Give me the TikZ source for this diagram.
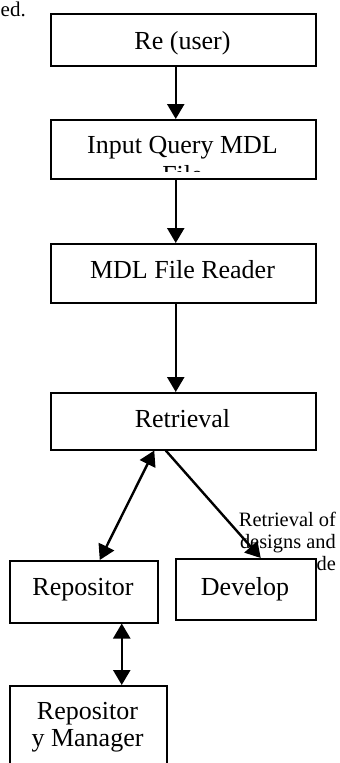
\documentclass[tikz,border=0pt]{standalone}
\usepackage{fontspec}
\setmainfont{Liberation Serif}
\usetikzlibrary{arrows.meta}
\begin{document}
\begin{tikzpicture}[x=1pt,y=-1pt,
  box/.style={draw,line width=1.5pt,fill=white,inner sep=0pt,anchor=north west},
  lbl/.style={font=\fontsize{26}{30}\selectfont,inner sep=0pt,anchor=base,align=center},
  note/.style={font=\fontsize{20.4}{22}\selectfont,inner sep=0pt,anchor=base east,align=right},
  conn/.style={line width=2.4pt,-{Triangle[width=17pt,length=15pt]}},
  both/.style={line width=2.4pt,{Triangle[width=17pt,length=15pt]}-{Triangle[width=17pt,length=15pt]}}]
\path[use as bounding box] (0,0) rectangle (340,763);

% trailing word of the preceding text line
\node[font=\fontsize{21}{24}\selectfont,inner sep=0pt,anchor=base west] (tail) at (0.5,16) {ed.};

% edge label, partly hidden by the Develop box (anchored on its last line)
\node[note] (note) at (336,570) {Retrieval of\\designs and\\code};

% boxes
\node[box,minimum width=265pt,minimum height=52pt] (user) at (50,13) {};
\node[box,minimum width=265pt,minimum height=59pt] (query) at (50,119) {};
\node[box,minimum width=265pt,minimum height=59pt] (reader) at (50,243) {};
\node[box,minimum width=265pt,minimum height=57pt] (retr) at (50,392) {};
\node[box,minimum width=148pt,minimum height=62pt] (repo) at (9,560) {};
\node[box,minimum width=140pt,minimum height=61pt] (dev) at (175,558) {};
\node[box,minimum width=157pt,minimum height=90pt] (mgr) at (9,685) {};

% box texts
\node[lbl] (tuser) at (182.5,49) {Re (user)};
\begin{scope}
  \clip (50,119) rectangle (315,171);
  \node[lbl] (tquery) at (182.5,183) {Input Query MDL\\File};
\end{scope}
\node[lbl] (treader) at (182.5,278) {MDL File Reader};
\node[lbl] (tretr) at (182.5,427) {Retrieval};
\node[lbl] (trepo) at (83,595) {Repositor};
\node[lbl] (tdev) at (245,595) {Develop};
\node[lbl,font=\fontsize{26}{26.5}\selectfont] (tmgr) at (87.5,746) {Repositor\\y Manager};

% connectors
\draw[conn] ([xshift=-7.5pt]user.south) -- ([xshift=-7.5pt]query.north);
\draw[conn] ([xshift=-7.5pt]query.south) -- ([xshift=-7.5pt]reader.north);
\draw[conn] ([xshift=-7.5pt]reader.south) -- ([xshift=-7.5pt]retr.north);
\draw[both] ([xshift=-29pt]retr.south) -- ([xshift=16pt]repo.north);
\draw[conn] ([xshift=-17.5pt]retr.south) -- ([xshift=15pt]dev.north);
\draw[both] ([xshift=38pt]repo.south) -- ([xshift=33.5pt]mgr.north);
\end{tikzpicture}
\end{document}
